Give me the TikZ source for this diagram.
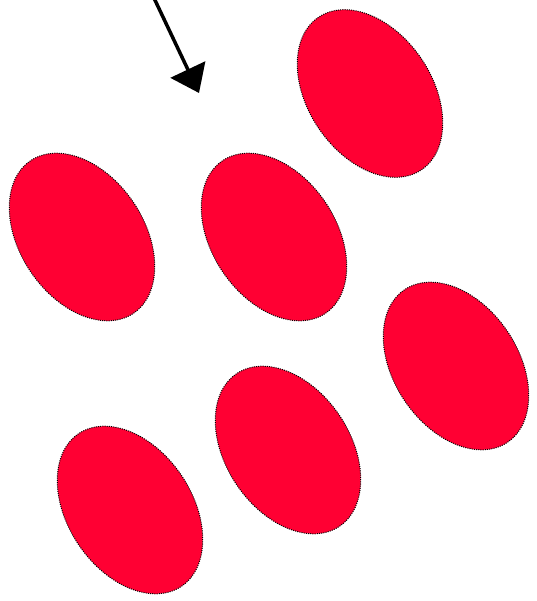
\documentclass[tikz,border=0pt]{standalone}
\usetikzlibrary{arrows.meta}
\definecolor{blobred}{HTML}{FF0033}
\tikzset{
  blob/.style={fill=blobred, draw=black, dash pattern=on 1pt off 1.2pt, line width=1pt},
  pointer/.style={draw=black, line width=3.5pt, -{Triangle[length=26pt,width=38pt]}}
}
\begin{document}
\begin{tikzpicture}[x=1pt,y=-1pt]
\useasboundingbox (0,0) rectangle (536,601);
\clip (0,0) rectangle (536,601);
\coordinate (src) at (153.5,-3);
\coordinate (tip) at (199,93);
\draw[pointer] (src) -- (tip);
\foreach \cx/\cy in {370/93.5, 82/237, 274/237, 456/366, 288/450, 130/510}{
  \draw[blob] (\cx,\cy) ellipse [x radius=62, y radius=92, rotate=34];
}
\end{tikzpicture}
\end{document}
